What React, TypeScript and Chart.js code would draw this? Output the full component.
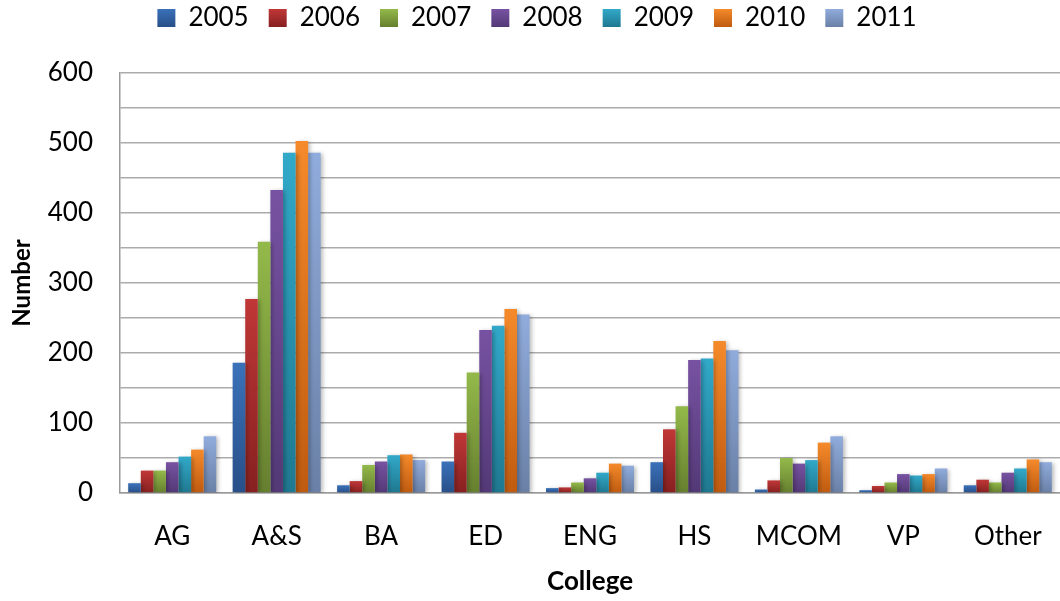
import React, { useEffect, useRef } from "react";
import { Chart, registerables } from "chart.js";

Chart.register(...registerables);

const categories = ["AG", "A&S", "BA", "ED", "ENG", "HS", "MCOM", "VP", "Other"];
const years = ["2005", "2006", "2007", "2008", "2009", "2010", "2011"];

const v2005 = [14, 186, 11, 45, 7, 44, 5, 4, 11];
const v2006 = [32, 277, 17, 86, 8, 91, 18, 10, 19];
const v2007 = [32, 359, 40, 172, 15, 124, 50, 15, 15];
const v2008 = [44, 433, 45, 233, 21, 190, 42, 27, 29];
const v2009 = [52, 486, 54, 239, 29, 192, 47, 25, 35];
const v2010 = [62, 503, 55, 263, 42, 217, 72, 27, 48];
const v2011 = [81, 486, 47, 255, 39, 204, 81, 35, 44];

const seriesValues = [v2005, v2006, v2007, v2008, v2009, v2010, v2011];

const topColors = ["#3A71B9", "#C03737", "#93B94A", "#7752A2", "#32A9C9", "#F58A2B", "#90ACDC"];
const bottomColors = ["#284F88", "#872020", "#667F2F", "#533976", "#1F7890", "#BF5B10", "#6A80A6"];

const yTicks = [0, 100, 200, 300, 400, 500, 600];

export default function App() {
  const canvasRef = useRef<HTMLCanvasElement | null>(null);

  useEffect(() => {
    document.body.style.margin = "0";
    const canvas = canvasRef.current;
    if (!canvas) return;

    const makeGradient = (chart: any, i: number, value: number) => {
      const y = chart.scales.y;
      if (!y) return topColors[i];
      const top = y.getPixelForValue(value);
      const bottom = y.getPixelForValue(0);
      if (!isFinite(top) || !isFinite(bottom) || top === bottom) return topColors[i];
      const g = chart.ctx.createLinearGradient(0, top, 0, bottom);
      g.addColorStop(0, topColors[i]);
      g.addColorStop(1, bottomColors[i]);
      return g;
    };

    const shadowPlugin = {
      id: "barShadow",
      beforeDatasetsDraw(chart: any) {
        const ctx = chart.ctx;
        ctx.save();
        ctx.shadowColor = "rgba(0,0,0,0.28)";
        ctx.shadowBlur = 4;
        ctx.shadowOffsetX = 2;
        ctx.shadowOffsetY = 1;
      },
      afterDatasetsDraw(chart: any) {
        chart.ctx.restore();
      },
    };

    const legendFitPlugin = {
      id: "legendFit",
      beforeInit(chart: any) {
        const legend = chart.legend;
        if (!legend) return;
        const orig = legend.fit;
        legend.fit = function () {
          orig.call(this);
          this.height = 88;
        };
      },
    };

    const chart = new Chart(canvas, {
      type: "bar",
      data: {
        labels: categories,
        datasets: years.map((yr, i) => ({
          label: yr,
          data: seriesValues[i],
          backgroundColor: (ctx: any) => {
            if (ctx.type !== "data") return topColors[i];
            return makeGradient(ctx.chart, i, ctx.raw as number);
          },
          borderWidth: 0,
          categoryPercentage: 0.843,
          barPercentage: 1,
        })),
      },
      options: {
        responsive: false,
        animation: false,
        events: [],
        layout: { padding: { top: -15, left: 14, right: 0, bottom: 0 } },
        font: { family: "Lato" },
        plugins: {
          tooltip: { enabled: false },
          legend: {
            position: "top",
            labels: {
              boxWidth: 18,
              boxHeight: 18,
              padding: 20,
              color: "#000",
              font: { family: "Lato", size: 26 },
              generateLabels: (chart: any) => {
                return years.map((yr, i) => {
                  const g = chart.ctx.createLinearGradient(0, 9, 0, 27);
                  g.addColorStop(0, topColors[i]);
                  g.addColorStop(1, bottomColors[i]);
                  return {
                    text: yr,
                    fillStyle: g,
                    strokeStyle: "rgba(0,0,0,0)",
                    lineWidth: 0,
                    hidden: false,
                    datasetIndex: i,
                    fontColor: "#000",
                  };
                });
              },
            },
          },
        },
        scales: {
          x: {
            grid: { display: false, drawTicks: false },
            border: { display: true, color: "#9a9a9a", width: 1.5 },
            ticks: {
              color: "#000",
              padding: 28,
              font: { family: "Lato", size: 26 },
              maxRotation: 0,
              autoSkip: false,
            },
            title: {
              display: true,
              text: "College",
              color: "#000",
              font: { family: "Lato", size: 26, weight: "bold" },
              padding: { top: 0, bottom: 4 },
            },
            afterFit: (scale: any) => {
              scale.height = 108;
              scale.paddingLeft = 0;
              scale.paddingRight = 0;
            },
          },
          y: {
            min: 0,
            max: 600,
            grid: { color: "#ababab", lineWidth: 1.5, drawTicks: false },
            border: { display: true, color: "#9a9a9a", width: 1.5 },
            ticks: {
              stepSize: 50,
              padding: 27,
              color: "#000",
              font: { family: "Lato", size: 26 },
              callback: (v: any) => (yTicks.includes(Number(v)) ? String(v) : ""),
            },
            title: {
              display: true,
              text: "Number",
              color: "#000",
              font: { family: "Lato", size: 24, weight: "bold" },
              padding: { top: -6, bottom: 0 },
            },
            afterFit: (scale: any) => {
              scale.width = 106;
            },
          },
        },
      },
      plugins: [shadowPlugin, legendFitPlugin],
    } as any);

    return () => {
      chart.destroy();
    };
  }, []);

  return (
    <div style={{ width: 1060, height: 601, background: "#fff" }}>
      <canvas ref={canvasRef} width={1060} height={601} style={{ display: "block" }} />
    </div>
  );
}
